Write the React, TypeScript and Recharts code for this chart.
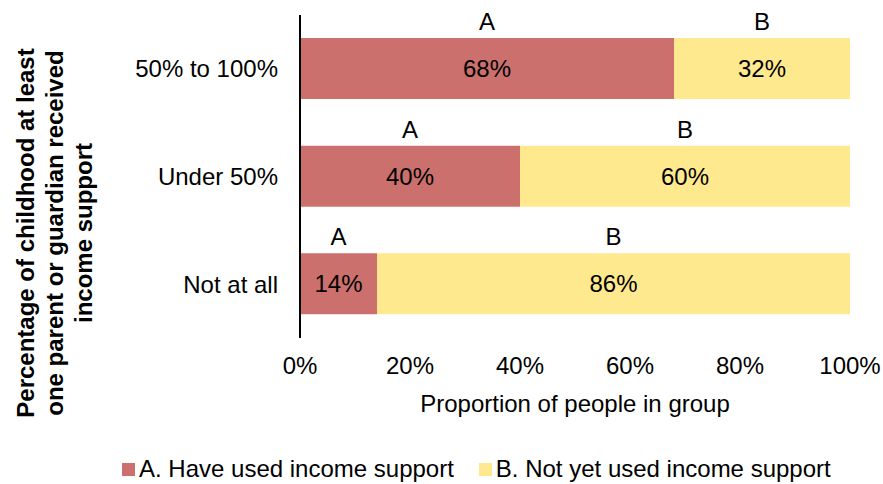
import React from "react";
import {
  BarChart, Bar, XAxis, YAxis, Legend, LabelList,
} from "recharts";

const groups = ["50% to 100%", "Under 50%", "Not at all"];
const usedSupport = [68, 40, 14];
const notYetUsed = [32, 60, 86];
const xTicks = [0, 20, 40, 60, 80, 100];
const seriesNames = ["A. Have used income support", "B. Not yet used income support"];
const yTitleLines = [
  "Percentage of childhood at least",
  "one parent or guardian received",
  "income support",
];

const FONT = '"Liberation Sans", Arial, sans-serif';
const RED = "#CB706C";
const YELLOW = "#FFE98F";

const data = groups.map((g, i) => ({
  group: g,
  a: usedSupport[i],
  b: notYetUsed[i],
}));

function YTitle() {
  return (
    <text
      transform="translate(34,233) rotate(-90)"
      textAnchor="middle"
      fontFamily={FONT}
      fontSize={24}
      fontWeight="bold"
      fill="#000"
    >
      {yTitleLines.map((line, i) => (
        <tspan key={i} x={0} y={i * 29}>{line}</tspan>
      ))}
    </text>
  );
}

function LegendBox(props: any) {
  const items = props.payload || [];
  return (
    <div style={{ display: "flex", alignItems: "center", fontFamily: FONT, fontSize: 24, color: "#000", whiteSpace: "nowrap" }}>
      {items.map((it: any, i: number) => (
        <div key={i} style={{ display: "flex", alignItems: "center", marginRight: 25 }}>
          <span style={{ display: "inline-block", width: 13, height: 13, background: it.color, marginRight: 4 }} />
          <span>{it.value}</span>
        </div>
      ))}
    </div>
  );
}

export default function App() {
  return (
    <div style={{ position: "absolute", left: 0, top: 0, background: "#fff" }}>
      <BarChart
        width={883}
        height={484}
        data={data}
        layout="vertical"
        margin={{ top: 15, right: 33, bottom: 66, left: 0 }}
        barSize={61}
      >
        <XAxis
          type="number"
          domain={[0, 100]}
          ticks={xTicks}
          tickFormatter={(v: number) => `${v}%`}
          axisLine={false}
          tickLine={false}
          tickSize={0}
          tickMargin={19}
          height={80}
          tick={{ fontSize: 24, fill: "#000", fontFamily: FONT }}
          label={{
            value: "Proportion of people in group",
            position: "insideBottom",
            offset: 6,
            style: { fontSize: 24, fill: "#000", fontFamily: FONT },
          }}
        />
        <YAxis
          type="category"
          dataKey="group"
          width={300}
          axisLine={{ stroke: "#000", strokeWidth: 2 }}
          tickLine={false}
          tickSize={0}
          tickMargin={22}
          tick={{ fontSize: 24, fill: "#000", fontFamily: FONT }}
          label={{ content: () => <YTitle /> }}
        />
        <Legend
          layout="horizontal"
          verticalAlign="middle"
          align="center"
          wrapperStyle={{ top: 455, left: 122, width: "auto" }}
          content={<LegendBox />}
        />
        <Bar dataKey="a" name={seriesNames[0]} stackId="s" fill={RED} isAnimationActive={false}>
          <LabelList dataKey="a" position="center" formatter={(v: any) => `${v}%`} style={{ fontSize: 24, fill: "#000", fontFamily: FONT }} />
          <LabelList dataKey="a" position="top" offset={8} formatter={() => "A"} style={{ fontSize: 24, fill: "#000", fontFamily: FONT }} />
        </Bar>
        <Bar dataKey="b" name={seriesNames[1]} stackId="s" fill={YELLOW} isAnimationActive={false}>
          <LabelList dataKey="b" position="center" formatter={(v: any) => `${v}%`} style={{ fontSize: 24, fill: "#000", fontFamily: FONT }} />
          <LabelList dataKey="b" position="top" offset={8} formatter={() => "B"} style={{ fontSize: 24, fill: "#000", fontFamily: FONT }} />
        </Bar>
      </BarChart>
    </div>
  );
}
